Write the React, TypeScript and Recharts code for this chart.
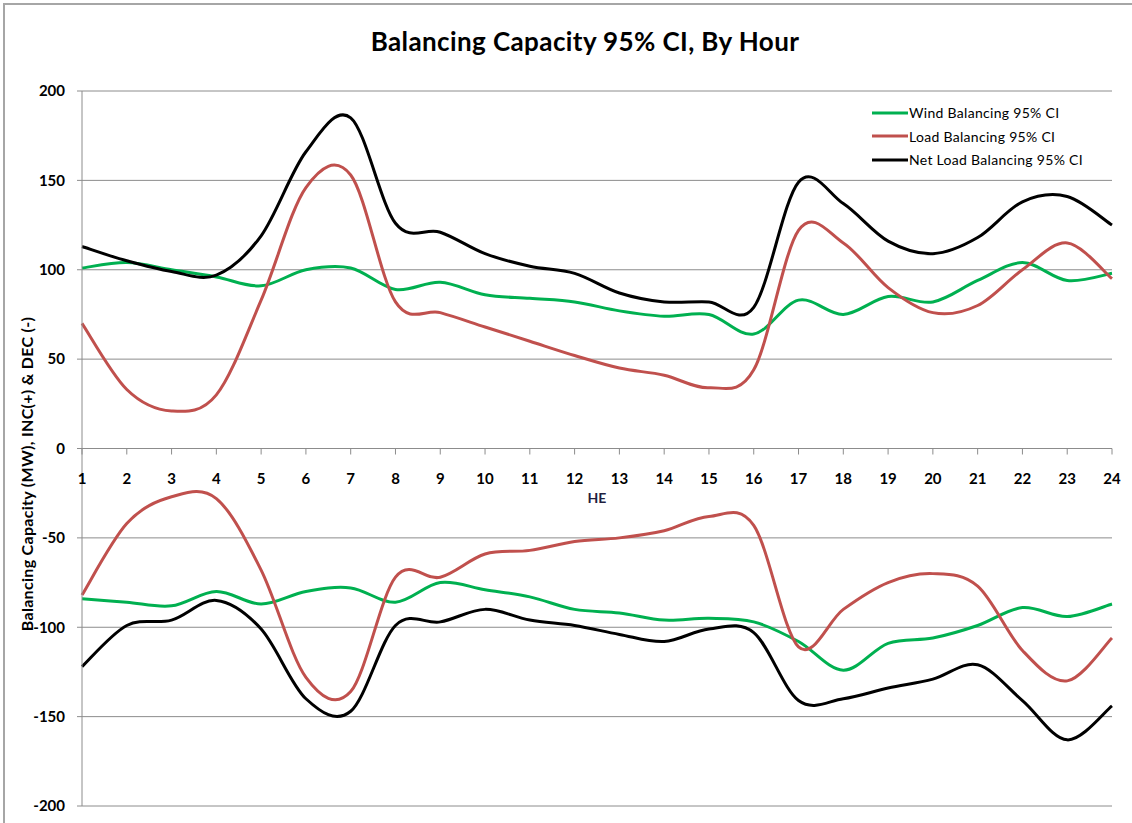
import React from 'react'
import { LineChart, Line, XAxis, YAxis, CartesianGrid } from 'recharts'

const hours = [1, 2, 3, 4, 5, 6, 7, 8, 9, 10, 11, 12, 13, 14, 15, 16, 17, 18, 19, 20, 21, 22, 23, 24]
const windInc = [101, 104, 100, 96, 91, 100, 101, 89, 93, 86, 84, 82, 77, 74, 75, 64, 83, 75, 85, 82, 94, 104, 94, 98]
const loadInc = [70, 33, 21, 30, 83, 146, 153, 82, 76, 68, 60, 52, 45, 41, 34, 44, 122, 115, 90, 76, 80, 100, 115, 95]
const netInc = [113, 105, 99, 97, 119, 166, 185, 126, 121, 109, 102, 98, 87, 82, 82, 79, 149, 137, 116, 109, 118, 138, 141, 125]
const windDec = [-84, -86, -88, -80, -87, -80, -78, -86, -75, -79, -83, -90, -92, -96, -95, -97, -108, -124, -109, -106, -99, -89, -94, -87]
const loadDec = [-82, -42, -27, -28, -68, -128, -136, -72, -72, -59, -57, -52, -50, -46, -38, -43, -111, -90, -75, -70, -77, -113, -130, -106]
const netDec = [-122, -99, -96, -85, -101, -140, -147, -99, -97, -90, -96, -99, -104, -108, -101, -103, -141, -140, -134, -129, -121, -141, -163, -144]
const yTicks = [-200, -150, -100, -50, 0, 50, 100, 150, 200]
const legendNames = ['Wind Balancing 95% CI', 'Load Balancing 95% CI', 'Net Load Balancing 95% CI']

const data = hours.map((h, i) => ({
  hour: h,
  windInc: windInc[i],
  loadInc: loadInc[i],
  netInc: netInc[i],
  windDec: windDec[i],
  loadDec: loadDec[i],
  netDec: netDec[i],
}))

const FONT = 'Lato, "Open Sans", sans-serif'
const W = 1132
const H = 823
const TOP = 91
const BOTTOM = 806
const ZERO_Y = (TOP + BOTTOM) / 2

const GREEN = '#00b050'
const RED = '#c0504d'
const BLACK = '#000000'
const GRID = '#8c8c8c'
const legendColors = [GREEN, RED, BLACK]

// excel-style smoothed line (catmull-rom through every point)
const excelSmooth = (context: any) => {
  let pts: number[][] = []
  return {
    areaStart() {},
    areaEnd() {},
    lineStart() { pts = [] },
    point(x: number, y: number) { pts.push([+x, +y]) },
    lineEnd() {
      if (!pts.length) return
      context.moveTo(pts[0][0], pts[0][1])
      for (let i = 0; i < pts.length - 1; i++) {
        const p0 = pts[Math.max(i - 1, 0)]
        const p1 = pts[i]
        const p2 = pts[i + 1]
        const p3 = pts[Math.min(i + 2, pts.length - 1)]
        context.bezierCurveTo(
          p1[0] + (p2[0] - p0[0]) / 6, p1[1] + (p2[1] - p0[1]) / 6,
          p2[0] - (p3[0] - p1[0]) / 6, p2[1] - (p3[1] - p1[1]) / 6,
          p2[0], p2[1]
        )
      }
    },
  }
}

const HourTick = (props: any) => {
  const { x, payload } = props
  return (
    <g>
      <line x1={x} x2={x} y1={ZERO_Y} y2={ZERO_Y + 6} stroke={GRID} />
      <text x={x} y={ZERO_Y + 35} textAnchor="middle" fontFamily={FONT} fontWeight="bold" fontSize={15} fill="#000">
        {payload.value}
      </text>
    </g>
  )
}

export default function App() {
  return (
    <div style={{ position: 'absolute', left: 0, top: 0, width: W, height: H, background: '#fff', overflow: 'hidden' }}>
      <div style={{ position: 'absolute', left: 3, top: 3, width: W, height: H, borderTop: '2px solid #a6a6a6', borderLeft: '2px solid #a6a6a6' }} />
      <div style={{ position: 'absolute', left: 285, top: 25, width: 600, textAlign: 'center', fontFamily: FONT, fontWeight: 'bold', fontSize: 26, letterSpacing: 0.4, color: '#000' }}>
        Balancing Capacity 95% CI, By Hour
      </div>
      <LineChart width={W} height={H} data={data} margin={{ top: TOP, right: W - 1112, bottom: H - BOTTOM - 1, left: 22 }} style={{ position: 'absolute', left: 0, top: 0 }}>
        <CartesianGrid vertical={false} stroke={GRID} />
        <XAxis
          dataKey="hour"
          type="number"
          domain={[1, 24]}
          ticks={hours}
          height={1}
          axisLine={false}
          tickLine={false}
          tick={<HourTick />}
          interval={0}
          label={{
            content: (p: any) => (
              <text x={p.viewBox.x + p.viewBox.width / 2} y={ZERO_Y + 54} textAnchor="middle" fontFamily={FONT} fontWeight="bold" fontSize={14} fill="#1f1f3f">
                HE
              </text>
            ),
          }}
        />
        <YAxis
          domain={[-200, 200]}
          ticks={yTicks}
          width={60}
          interval={0}
          stroke={GRID}
          tickSize={5}
          tickMargin={12}
          tick={{ fill: '#000', fontFamily: FONT, fontWeight: 'bold', fontSize: 15 }}
          label={{
            content: () => (
              <text x={33} y={474} transform="rotate(-90 33 474)" textAnchor="middle" fontFamily={FONT} fontWeight="bold" fontSize={16} letterSpacing={0.3} fill="#000">
                Balancing Capacity (MW), INC(+) &amp; DEC (-)
              </text>
            ),
          }}
        />
        <Line type={excelSmooth as any} dataKey="windInc" name="Wind Balancing 95% CI" stroke={GREEN} strokeWidth={3} dot={false} isAnimationActive={false} />
        <Line type={excelSmooth as any} dataKey="loadInc" name="Load Balancing 95% CI" stroke={RED} strokeWidth={3} dot={false} isAnimationActive={false} />
        <Line type={excelSmooth as any} dataKey="netInc" name="Net Load Balancing 95% CI" stroke={BLACK} strokeWidth={3} dot={false} isAnimationActive={false} />
        <Line type={excelSmooth as any} dataKey="windDec" name="Wind DEC" stroke={GREEN} strokeWidth={3} dot={false} isAnimationActive={false} />
        <Line type={excelSmooth as any} dataKey="loadDec" name="Load DEC" stroke={RED} strokeWidth={3} dot={false} isAnimationActive={false} />
        <Line type={excelSmooth as any} dataKey="netDec" name="Net Load DEC" stroke={BLACK} strokeWidth={3} dot={false} isAnimationActive={false} />
      </LineChart>
      <div style={{ position: 'absolute', left: 872, top: 101, fontFamily: FONT, fontSize: 14, letterSpacing: 0.3, color: '#000' }}>
        {legendNames.map((name, i) => (
          <div key={name} style={{ display: 'flex', alignItems: 'center', height: 23.5 }}>
            <svg width={36} height={4} style={{ marginRight: 1 }}>
              <line x1={0} x2={36} y1={2} y2={2} stroke={legendColors[i]} strokeWidth={3} />
            </svg>
            <span>{name}</span>
          </div>
        ))}
      </div>
    </div>
  )
}
